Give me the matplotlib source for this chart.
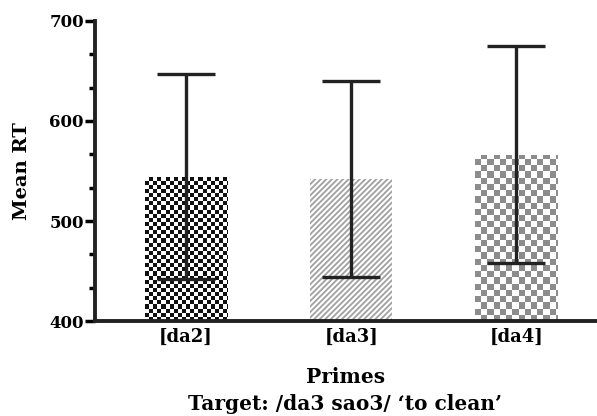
import matplotlib
matplotlib.use("Agg")
import matplotlib.pyplot as plt
import numpy as np
from matplotlib.ticker import MultipleLocator

# data
primes = ["[da2]", "[da3]", "[da4]"]
mean_rt = [544, 542, 566]
err_low = [442, 444, 458]
err_high = [647, 640, 675]

plt.rcParams["font.family"] = ["DejaVu Serif"]
plt.rcParams["font.weight"] = "bold"
plt.rcParams["hatch.linewidth"] = 1.3

fig = plt.figure(figsize=(5.97, 4.16), dpi=100)
ax = fig.add_axes([0.159, 0.228, 0.839, 0.722])

x = np.arange(len(primes))
width = 0.5
bars = ax.bar(x, np.array(mean_rt) - 400, width, bottom=400,
              facecolor="none", edgecolor="none", zorder=1)


def checker(bar, square_px, color):
    # fill a bar with a checkerboard image clipped to the bar
    bx, by = bar.get_x(), bar.get_y()
    bw, bh = bar.get_width(), bar.get_height()
    px_per_x = 165.5
    px_per_y = 1.0
    nx = int(np.ceil(bw * px_per_x / square_px))
    ny = int(np.ceil(bh * px_per_y / square_px))
    grid = np.add.outer(np.arange(ny), np.arange(nx)) % 2
    rgba = np.ones((ny, nx, 4))
    rgba[grid == 1] = matplotlib.colors.to_rgba(color)
    im = ax.imshow(rgba, extent=[bx, bx + nx * square_px / px_per_x,
                                 by, by + ny * square_px / px_per_y],
                   origin="lower", interpolation="nearest", aspect="auto",
                   zorder=1)
    im.set_clip_path(bar)


checker(bars[0], 4.1, "#111111")
checker(bars[2], 6.2, "#8c8c8c")
bars[1].set_hatch("//////")
bars[1].set_edgecolor("#a0a0a0")
bars[1].set_linewidth(0)

yerr = [np.array(mean_rt) - np.array(err_low), np.array(err_high) - np.array(mean_rt)]
ax.errorbar(x, mean_rt, yerr=yerr, fmt="none", ecolor="#222222",
            elinewidth=2.4, capsize=21, capthick=2.4, zorder=3)

ax.set_xlim(-0.55, 2.48)
ax.set_ylim(400, 700)
ax.set_aspect("auto")
ax.yaxis.set_major_locator(MultipleLocator(100))
ax.yaxis.set_minor_locator(MultipleLocator(100 / 3))
ax.set_xticks(x)
ax.set_xticklabels(primes)
ax.tick_params(axis="x", length=0, pad=5, labelsize=13)
ax.tick_params(axis="y", which="major", length=7, width=2.5, labelsize=12, pad=1)
ax.tick_params(axis="y", which="minor", length=4, width=2.5)

for side in ["top", "right"]:
    ax.spines[side].set_visible(False)
for side in ["left", "bottom"]:
    ax.spines[side].set_linewidth(2.8)
    ax.spines[side].set_color("#222222")

ax.set_ylabel("Mean RT", fontsize=14, fontweight="bold")
ax.yaxis.set_label_coords(-0.127, 0.5)
ax.set_xlabel("Primes\nTarget: /da3 sao3/ \u2018to clean\u2019", fontsize=14.5,
              fontweight="bold", labelpad=15, linespacing=1.45)

fig.savefig("out.png", dpi=100)
